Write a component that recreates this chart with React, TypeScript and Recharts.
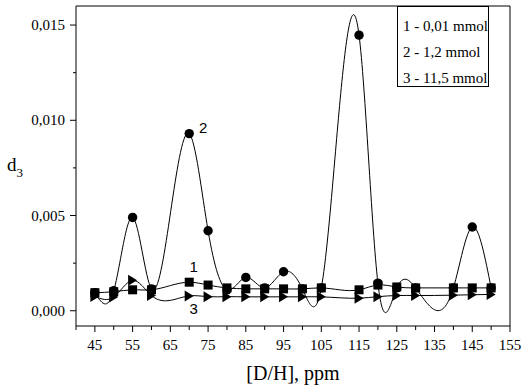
import { LineChart, Line, XAxis, YAxis, ReferenceArea, ReferenceDot } from 'recharts'

// [D/H], ppm
const dh = [45, 50, 55, 60, 70, 75, 80, 85, 90, 95, 100, 105, 115, 120, 125, 130, 140, 145, 150]
// 1 - 0,01 mmol
const d1 = [0.00095, 0.001, 0.0011, 0.0011, 0.0015, 0.00135, 0.0012, 0.00115, 0.00115, 0.00115, 0.00115, 0.0012, 0.0011, 0.00135, 0.00125, 0.0012, 0.0012, 0.0012, 0.0012]
// 2 - 1,2 mmol
const d2 = [0.00095, 0.00105, 0.0049, 0.00115, 0.0093, 0.0042, 0.0011, 0.00175, 0.0012, 0.00205, 0.00115, 0.0012, 0.01447, 0.00145, 0.0012, 0.0012, 0.0012, 0.0044, 0.0012]
// 3 - 11,5 mmol
const d3 = [0.00075, 0.00072, 0.0016, 0.0008, 0.00078, 0.00074, 0.00074, 0.00073, 0.00073, 0.00073, 0.00073, 0.00073, 0.00066, 0.00074, 0.0008, 0.0008, 0.00082, 0.00084, 0.00086]

const xTicks = [40, 45, 50, 55, 60, 65, 70, 75, 80, 85, 90, 95, 100, 105, 110, 115, 120, 125, 130, 135, 140, 145, 150, 155]
const xLabeled = [45, 55, 65, 75, 85, 95, 105, 115, 125, 135, 145, 155]
const yTicks = [0, 0.0025, 0.005, 0.0075, 0.01, 0.0125, 0.015]
const yLabeled = [0, 0.005, 0.01, 0.015]
const legendItems = ['1 - 0,01 mmol', '2 - 1,2 mmol', '3 - 11,5 mmol']

const rows = dh.map((x, i) => ({ dh: x, s1: d1[i], s2: d2[i], s3: d3[i] }))

const SERIF = '"Liberation Serif", "Times New Roman", serif'
const SANS = '"Liberation Sans", Arial, sans-serif'

// natural cubic spline y(x) (like Origin's spline), as a curve factory for Recharts
function splineX(context: any) {
  let xs: number[] = []
  let ys: number[] = []
  return {
    areaStart() {},
    areaEnd() {},
    lineStart() {
      xs = []
      ys = []
    },
    point(x: number, y: number) {
      xs.push(+x)
      ys.push(+y)
    },
    lineEnd() {
      const n = xs.length
      if (!n) return
      context.moveTo(xs[0], ys[0])
      if (n === 1) return
      if (n === 2) {
        context.lineTo(xs[1], ys[1])
        return
      }
      const h: number[] = []
      for (let i = 0; i < n - 1; i++) h.push(xs[i + 1] - xs[i])
      const M = new Array(n).fill(0)
      const m = n - 2
      const cp: number[] = []
      const dp: number[] = []
      for (let k = 0; k < m; k++) {
        const i = k + 1
        const a = h[i - 1]
        const b = 2 * (h[i - 1] + h[i])
        const c = h[i]
        const r = 6 * ((ys[i + 1] - ys[i]) / h[i] - (ys[i] - ys[i - 1]) / h[i - 1])
        if (k === 0) {
          cp.push(c / b)
          dp.push(r / b)
        } else {
          const den = b - a * cp[k - 1]
          cp.push(c / den)
          dp.push((r - a * dp[k - 1]) / den)
        }
      }
      for (let k = m - 1; k >= 0; k--) M[k + 1] = dp[k] - (k < m - 1 ? cp[k] * M[k + 2] : 0)
      for (let i = 0; i < n - 1; i++) {
        const hi = h[i]
        const s = (ys[i + 1] - ys[i]) / hi
        const d0 = s - (hi * (2 * M[i] + M[i + 1])) / 6
        const d1v = s + (hi * (M[i] + 2 * M[i + 1])) / 6
        context.bezierCurveTo(
          xs[i] + hi / 3,
          ys[i] + (d0 * hi) / 3,
          xs[i + 1] - hi / 3,
          ys[i + 1] - (d1v * hi) / 3,
          xs[i + 1],
          ys[i + 1],
        )
      }
    },
  }
}

function XTick(props: any) {
  const { x, y, payload } = props
  const major = xLabeled.includes(payload.value)
  return (
    <g>
      <line x1={x} x2={x} y1={y} y2={y + (major ? 6 : 4)} stroke="#000" />
      {major && (
        <text x={x} y={y + 24} textAnchor="middle" fontSize={15} fontFamily={SERIF} fill="#000">
          {payload.value}
        </text>
      )}
    </g>
  )
}

function YTick(props: any) {
  const { x, y, payload } = props
  const major = yLabeled.some((v) => Math.abs(v - payload.value) < 1e-9)
  return (
    <g>
      <line x1={x} x2={x - (major ? 6 : 3)} y1={y} y2={y} stroke="#000" />
      {major && (
        <text x={x - 11} y={y + 5} textAnchor="end" fontSize={15} fontFamily={SERIF} fill="#000">
          {payload.value.toFixed(3).replace('.', ',')}
        </text>
      )}
    </g>
  )
}

const circleDot = (p: any) => <circle key={p.key} cx={p.cx} cy={p.cy} r={4.7} fill="#000" />
const squareDot = (p: any) => <rect key={p.key} x={p.cx - 4.5} y={p.cy - 4.5} width={9} height={9} fill="#000" />
const triDot = (p: any) => (
  <path key={p.key} d={`M${p.cx - 4.5},${p.cy - 5.5}L${p.cx + 4.5},${p.cy}L${p.cx - 4.5},${p.cy + 5.5}Z`} fill="#000" />
)

// подписи кривых
const note = (text: string, dx: number, dy: number) => (p: any) => (
  <text x={p.cx + dx} y={p.cy + dy} textAnchor="middle" fontSize={15} fontFamily={SANS} fill="#000">
    {text}
  </text>
)

export default function App() {
  return (
    <div style={{ position: 'absolute', left: 0, top: 0, width: 528, height: 392, background: '#fff' }}>
      <LineChart width={528} height={392} data={rows} margin={{ top: 6, right: 18, bottom: 0, left: 0 }}>
        <XAxis
          dataKey="dh"
          type="number"
          domain={[40, 155]}
          ticks={xTicks}
          interval={0}
          height={66}
          axisLine={false}
          tickLine={false}
          tickSize={0}
          tickMargin={0}
          tick={<XTick />}
          allowDataOverflow
          label={{
            content: (p: any) => (
              <text
                x={p.viewBox.x + p.viewBox.width / 2}
                y={p.viewBox.y + 54}
                textAnchor="middle"
                fontSize={20}
                fontFamily={SERIF}
                fill="#000"
              >
                [D/H], ppm
              </text>
            ),
          }}
        />
        <YAxis
          type="number"
          domain={[-0.0008, 0.016]}
          ticks={yTicks}
          interval={0}
          width={76}
          axisLine={false}
          tickLine={false}
          tickSize={0}
          tickMargin={0}
          tick={<YTick />}
          allowDataOverflow
          label={{
            content: () => (
              <text x={7} y={171} fontSize={19} fontFamily={SERIF} fill="#000">
                d
                <tspan fontSize={13} dy={6}>3</tspan>
              </text>
            ),
          }}
        />
        <ReferenceArea x1={40} x2={155} y1={-0.0008} y2={0.016} fill="none" stroke="#000" strokeWidth={1} ifOverflow="visible" />
        <Line type={splineX as any} dataKey="s1" stroke="#000" strokeWidth={1} dot={squareDot} activeDot={false} isAnimationActive={false} />
        <Line type={splineX as any} dataKey="s2" stroke="#000" strokeWidth={1} dot={circleDot} activeDot={false} isAnimationActive={false} />
        <Line type={splineX as any} dataKey="s3" stroke="#000" strokeWidth={1} dot={triDot} activeDot={false} isAnimationActive={false} />
        <ReferenceDot x={70} y={d2[4]} r={0} shape={note('2', 14, -1)} ifOverflow="visible" />
        <ReferenceDot x={70} y={d1[4]} r={0} shape={note('1', 4.5, -10)} ifOverflow="visible" />
        <ReferenceDot x={70} y={d3[4]} r={0} shape={note('3', 4.5, 18)} ifOverflow="visible" />
      </LineChart>
      <div
        style={{
          position: 'absolute',
          left: 397,
          top: 6,
          width: 92,
          height: 81,
          boxSizing: 'border-box',
          border: '1px solid #000',
          background: '#fff',
          fontFamily: SERIF,
          fontSize: 15,
          lineHeight: '26px',
          paddingLeft: 5,
          paddingTop: 6,
          whiteSpace: 'nowrap',
        }}
      >
        {legendItems.map((t) => (
          <div key={t}>{t}</div>
        ))}
      </div>
    </div>
  )
}
